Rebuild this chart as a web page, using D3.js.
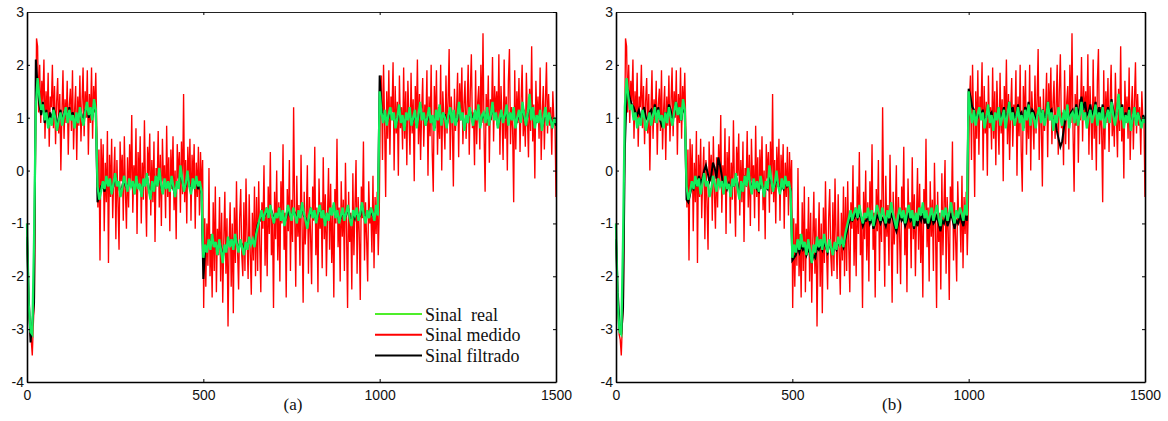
<!DOCTYPE html>
<html>
<head>
<meta charset="utf-8">
<script src="https://cdn.jsdelivr.net/npm/d3@7"></script>
<style>
  body { margin: 0; background: #fff; }
  .tick text { font-family: "Liberation Sans", Arial, sans-serif; font-size: 14px; fill: #111; }
  .legendText, .panelLabel { font-family: "Liberation Serif", "Times New Roman", serif; fill: #111; }
</style>
</head>
<body>
<script>
(function(){

//sample spacing of each stored series
var redStep = 3,
    lineStep = 5;

//measured signal (red), one value every 3 samples
var sinalMedido = [
  //0-27
  -1.0, -2.2, -2.7, -3.1, -3.2, -3.5, -2.9, -2.4, 0.2, 2.5,
  //30-198
  2.35, 1.1, 2.0, 0.9, 1.7, 1.3, 2.1, 0.6, 1.5, 1.0,
  1.85, 0.45, 1.4, 1.2, 2.0, 0.8, 1.6, 0.5, 1.3, 1.75,
  0.7, 1.45, 0.0, 1.1, 1.9, 0.6, 1.35, 0.9, 1.7, 0.3,
  1.25, 1.55, 0.75, 1.9, 0.4, 1.15, 1.6, 0.2, 1.4, 0.85,
  1.8, 0.55, 1.3, 1.95, 0.65, 1.5, 1.0, 1.9, 0.3, 1.45,
  0.9, 1.95, 0.6, 1.6, 1.1, 1.85, 0.8,
  //201-498
  -0.7, 0.4, -1.7, 0.6, -0.35, 0.5, -1.15, 0.15, -0.6, 0.75,
  -1.75, 0.3, -0.5, 0.6, -0.9, -0.1, 0.45, -1.3, 0.2, -0.6,
  -1.5, 0.55, -0.2, 0.3, -0.95, 0.65, -0.4, -1.1, 0.25, -0.7,
  0.5, -0.3, 1.05, -0.8, 0.1, -0.45, 0.8, -1.2, 0.35, -0.25,
  0.65, -1.0, 0.15, -0.55, 0.95, -0.35, -1.25, 0.45, -0.1, 0.7,
  -0.85, 0.2, -0.6, 0.55, -1.35, 0.05, -0.3, 0.75, -0.7, 0.3,
  -1.05, 0.6, -0.2, 0.1, -0.9, 0.85, -0.5, 0.25, -1.15, 0.4,
  -0.35, 0.65, -0.75, 0.0, -1.3, 0.5, -0.15, 0.35, -0.8, 0.55,
  -0.45, 1.45, -0.6, 0.2, -1.0, 0.45, -0.3, 0.6, -0.95, 0.3,
  -0.2, 0.5, -1.1, 0.15, -0.5, 0.45, -0.85, 0.35, -0.4, 0.2,
  //501-648
  -2.6, -0.9, -2.2, -1.0, -1.8, 0.05, -2.0, -1.2, -2.4, -0.6,
  -1.9, -0.3, -2.3, -1.1, -1.6, -0.5, -2.1, -0.8, -2.5, -1.3,
  -0.4, -1.95, -0.9, -2.95, -1.4, -0.6, -2.2, -1.0, -2.7, -0.7,
  -1.75, -0.2, -1.5, -2.25, -0.9, -0.35, -1.6, -2.0, -0.6, -1.9,
  -0.15, -1.25, -2.05, -0.45, -1.55, -2.35, -0.8, -1.7, -0.3, -2.0,
  //651-999
  -0.5, -1.9, -0.2, -1.4, -2.3, -0.6, -1.1, 0.1, -1.8, -0.7,
  -2.0, -0.3, -1.2, 0.35, -1.6, -0.9, -2.6, -0.4, -1.3, 0.0,
  -1.7, -0.6, -2.1, -0.2, -1.0, 0.5, -1.5, -0.8, -2.4, -0.35,
  -1.15, 0.2, -1.9, -0.55, -1.35, 1.2, -0.75, -2.2, -0.1, -1.25,
  -0.65, -1.8, 0.3, -1.05, -2.5, -0.4, -1.4, -0.85, 0.1, -1.95,
  -0.5, -1.2, -2.15, -0.3, -0.95, 0.45, -1.6, -0.7, -2.3, -0.15,
  -1.1, -0.6, -1.85, 0.25, -1.3, -0.45, -2.0, -0.9, 0.05, -1.5,
  -0.25, -1.75, -0.8, -2.4, -0.35, -1.0, 0.6, -1.45, -0.7, -2.1,
  -0.2, -1.25, -0.55, -1.9, 0.15, -1.1, -2.6, -0.4, -1.35, -0.8,
  -2.25, -0.05, -1.6, -0.65, 0.2, -1.95, -0.5, -1.15, -2.45, -0.3,
  -0.9, 0.55, -1.7, -0.6, -1.3, -2.1, -0.2, -1.0, -0.75, -1.55,
  -0.1, -1.85, -0.5, -1.2, -0.4, -1.6, -0.7,
  //1002-1500
  1.3, 1.8, 0.2, 2.0, 0.9, -0.5, 1.5, 0.6, 1.9, 0.3,
  1.4, 1.1, 2.05, 0.0, 1.6, 0.7, 1.3, -0.1, 1.8, 0.8,
  1.2, 0.4, 1.95, 0.6, 1.5, 0.1, 1.7, 1.0, 0.3, 1.85,
  0.7, 1.35, -0.2, 1.6, 0.9, 2.1, 0.5, 1.45, 0.2, 1.1,
  1.75, 0.45, 1.25, 0.85, 1.9, -0.1, 1.4, 0.65, 2.0, 0.35,
  -0.4, 1.6, 0.8, 1.9, 0.3, 1.2, 0.6, 2.0, 0.0, 1.5,
  1.0, 0.4, 1.8, 0.7, 1.3, 2.3, 0.2, 1.4, 0.9, -0.3,
  1.55, 0.75, 1.15, 1.85, 0.25, 1.65, 0.95, 1.95, 0.5, 1.25,
  1.7, 0.6, 1.2, 2.0, 0.3, 1.5, 2.2, 0.8, 1.1, 0.1,
  1.9, 0.5, 1.3, 1.6, 0.4, 2.0, 0.9, 2.6, 0.7, -0.4,
  1.45, 0.85, 1.8, 0.15, 1.35, 0.95, 2.15, 0.55, 1.6, 1.05,
  1.5, 0.8, 2.2, 0.3, 1.6, 1.0, 0.2, 2.1, 0.6, 1.4,
  0.0, 1.7, 2.3, 0.5, 1.2, 0.8, -0.6, 1.9, 0.4, 1.5,
  0.9, 1.75, 0.35, 1.3, 2.0, 0.65, 1.15, 0.45, 1.85, 1.0,
  0.25, 1.55, 0.75, 2.35, 0.55, 1.25, -0.15, 1.7, 0.9, 1.4,
  0.6, 1.95, 0.2, 1.1, 1.6, 0.4, 1.3, 2.05, 0.7, 1.45,
  0.85, 1.2, 0.3, 1.5, 0.95, 1.0, -0.5
];

//real signal (green), one value every 5 samples
var sinalReal = [
  -1.0, -2.55, -3.05, -3.1, -1.3, 1.2,
  1.75, 1.4, 1.15, 1.25, 0.95, 1.1, 0.8, 1.0, 0.85, 1.15,
  1.0, 0.75, 0.95, 1.1, 0.85, 1.05, 1.2, 0.9, 1.15, 0.95,
  1.05, 0.8, 1.1, 0.9, 1.2, 1.0, 0.85, 1.1, 1.3, 1.05,
  1.2, 0.95, 1.35, 1.15,
  -0.3, -0.55, -0.4, -0.2, -0.35, -0.1, -0.3, -0.15, -0.45, -0.25,
  -0.05, -0.3, -0.2, -0.5, -0.35, -0.1, -0.25, -0.4, -0.15, -0.3,
  -0.2, -0.45, -0.1, -0.35, -0.25, -0.5, -0.15, -0.3, -0.05, -0.35,
  -0.55, -0.2, -0.4, -0.1, -0.3, 0.05, -0.25, -0.45, -0.15, -0.35,
  -0.2, -0.4, -0.1, -0.3, -0.5, -0.2, -0.35, 0.1, -0.15, -0.4,
  -0.25, 0.0, -0.3, -0.45, -0.15, -0.35, -0.1, -0.3, -0.2, -0.4,
  -1.65, -1.4, -1.55, -1.3, -1.5, -1.2, -1.45, -1.35, -1.6, -1.3,
  -1.5, -1.75, -1.4, -1.55, -1.25, -1.45, -1.3, -1.5, -1.2, -1.4,
  -1.55, -1.3, -1.45, -1.6, -1.35, -1.5, -1.25, -1.4, -1.3, -1.45,
  -1.2, -1.05, -0.9, -0.75, -0.95, -0.8, -0.7, -0.9, -0.65, -0.85,
  -1.0, -0.8, -0.9, -0.7, -0.95, -0.75, -1.05, -0.85, -0.65, -0.8,
  -0.95, -0.7, -0.85, -1.0, -0.75, -0.9, -0.6, -0.8, -0.95, -1.1,
  -0.85, -0.7, -0.9, -0.75, -1.0, -0.8, -0.65, -0.9, -0.75, -1.05,
  -0.8, -0.95, -0.7, -0.85, -0.6, -0.9, -0.75, -1.0, -0.85, -0.7,
  -0.95, -0.8, -0.65, -0.9, -1.05, -0.75, -0.85, -0.7, -0.95, -0.8,
  -0.6, -0.85, -1.0, -0.75, -0.9, -0.7, -0.8, -0.95, -0.65, -0.85,
  1.5, 1.1, 0.9, 1.15, 0.85, 1.05, 1.2, 0.95, 1.1, 0.8,
  1.0, 1.25, 0.9, 1.05, 0.75, 1.1, 0.95, 1.2, 0.85, 1.0,
  1.15, 0.8, 1.05, 1.3, 0.95, 1.1, 0.85, 1.0, 1.2, 0.9,
  1.05, 0.75, 1.15, 0.95, 1.25, 0.85, 1.1, 1.0, 0.8, 1.05,
  1.2, 0.9, 1.15, 0.85, 1.0, 1.3, 0.95, 1.1, 0.75, 1.05,
  0.9, 1.2, 1.0, 0.85, 1.15, 0.95, 1.25, 0.8, 1.05, 1.1,
  0.9, 1.2, 0.85, 1.05, 1.3, 0.95, 1.1, 0.8, 1.0, 1.15,
  0.9, 1.05, 1.25, 0.85, 1.1, 0.95, 1.2, 0.8, 1.0, 1.15,
  0.9, 1.3, 1.05, 0.85, 1.1, 1.45, 0.95, 1.2, 0.8, 1.05,
  0.9, 1.15, 0.75, 1.0, 1.2, 0.85, 1.1, 0.95, 0.8, 1.0,
  0.9
];

//filtered signal, panel (a)
var filtradoA = [
  -1.25, -2.4, -3.25, -2.9, -2.5, 2.1,
  1.6, 1.25, 1.05, 1.3, 0.9, 1.15, 0.85, 1.1, 0.95, 1.2,
  1.05, 0.85, 1.0, 1.15, 0.9, 1.1, 1.15, 0.95, 1.2, 1.0,
  1.1, 0.85, 1.05, 0.95, 1.15, 1.05, 0.9, 1.15, 1.2, 1.0,
  1.15, 1.0, 1.25, 1.1,
  -0.6, -0.45, -0.3, -0.25, -0.4, -0.15, -0.25, -0.2, -0.4, -0.3,
  -0.1, -0.25, -0.25, -0.45, -0.3, -0.15, -0.3, -0.35, -0.2, -0.25,
  -0.25, -0.4, -0.15, -0.3, -0.3, -0.45, -0.2, -0.25, -0.1, -0.3,
  -0.5, -0.25, -0.35, -0.15, -0.25, 0.0, -0.3, -0.4, -0.2, -0.3,
  -0.25, -0.35, -0.15, -0.35, -0.45, -0.25, -0.3, 0.0, -0.2, -0.35,
  -0.3, -0.05, -0.25, -0.4, -0.2, -0.3, -0.15, -0.35, -0.25, -0.45,
  -2.05, -1.5, -1.45, -1.35, -1.45, -1.25, -1.4, -1.4, -1.55, -1.35,
  -1.45, -1.65, -1.45, -1.5, -1.3, -1.4, -1.35, -1.45, -1.25, -1.35,
  -1.5, -1.35, -1.4, -1.55, -1.4, -1.45, -1.3, -1.35, -1.35, -1.4,
  -1.15, -1.0, -0.95, -0.8, -0.9, -0.85, -0.75, -0.85, -0.7, -0.8,
  -0.95, -0.85, -0.85, -0.75, -0.9, -0.8, -1.0, -0.9, -0.7, -0.85,
  -0.9, -0.75, -0.8, -0.95, -0.8, -0.85, -0.65, -0.85, -0.9, -1.05,
  -0.9, -0.75, -0.85, -0.8, -0.95, -0.85, -0.7, -0.85, -0.8, -1.0,
  -0.85, -0.9, -0.75, -0.8, -0.65, -0.85, -0.8, -0.95, -0.9, -0.75,
  -0.9, -0.85, -0.7, -0.85, -1.0, -0.8, -0.9, -0.75, -0.9, -0.85,
  -0.65, -0.8, -0.95, -0.8, -0.85, -0.75, -0.85, -0.9, -0.7, -0.8,
  1.8, 1.2, 0.95, 1.1, 0.9, 1.0, 1.15, 1.0, 1.05, 0.85,
  0.95, 1.2, 0.95, 1.0, 0.8, 1.05, 1.0, 1.15, 0.9, 0.95,
  1.1, 0.85, 1.0, 1.25, 1.0, 1.05, 0.9, 0.95, 1.15, 0.95,
  1.0, 0.8, 1.1, 1.0, 1.2, 0.9, 1.05, 1.05, 0.85, 1.0,
  1.15, 0.95, 1.1, 0.9, 0.95, 1.25, 1.0, 1.05, 0.8, 1.0,
  0.95, 1.15, 1.05, 0.9, 1.1, 1.0, 1.2, 0.85, 1.0, 1.05,
  0.95, 1.15, 0.9, 1.0, 1.25, 1.0, 1.05, 0.85, 0.95, 1.1,
  0.95, 1.0, 1.2, 0.9, 1.05, 1.0, 1.15, 0.85, 0.95, 1.1,
  0.95, 1.25, 1.0, 0.9, 1.05, 1.35, 1.0, 1.15, 0.85, 1.0,
  0.95, 1.1, 0.8, 0.95, 1.15, 0.9, 1.05, 1.0, 0.85, 0.95,
  0.85
];

//filtered signal, panel (b)
var filtradoB = [
  -1.3, -2.3, -2.9, -3.1, -2.6, 0.4,
  1.45, 1.5, 1.35, 1.25, 1.2, 1.1, 1.05, 1.15, 1.0, 1.1,
  1.2, 1.0, 0.95, 1.1, 1.15, 1.0, 1.25, 1.05, 1.2, 0.95,
  0.85, 0.9, 1.1, 1.0, 1.25, 1.15, 0.95, 1.05, 1.3, 1.15,
  1.1, 0.95, 1.2, 1.1,
  -0.55, -0.6, -0.45, -0.3, -0.35, -0.2, -0.3, -0.1, -0.25, -0.15,
  0.0, 0.1, -0.05, -0.2, -0.1, 0.15, 0.05, -0.15, 0.25, 0.1,
  -0.1, -0.3, -0.2, -0.35, -0.25, -0.4, -0.2, -0.3, -0.1, -0.25,
  -0.45, -0.35, -0.3, -0.15, -0.25, -0.1, -0.2, -0.35, -0.2, -0.3,
  -0.35, -0.4, -0.25, -0.3, -0.45, -0.3, -0.35, -0.1, -0.2, -0.35,
  -0.3, -0.15, -0.25, -0.4, -0.3, -0.35, -0.2, -0.3, -0.25, -0.35,
  -1.7, -1.65, -1.6, -1.45, -1.55, -1.4, -1.5, -1.45, -1.6, -1.5,
  -1.55, -1.75, -1.6, -1.65, -1.45, -1.5, -1.4, -1.5, -1.35, -1.45,
  -1.55, -1.4, -1.45, -1.55, -1.45, -1.5, -1.35, -1.4, -1.35, -1.45,
  -1.3, -1.15, -1.0, -0.9, -0.95, -0.9, -0.8, -0.9, -0.8, -0.9,
  -1.05, -0.95, -0.95, -0.85, -1.0, -0.9, -1.1, -1.0, -0.85, -0.9,
  -1.0, -0.9, -0.95, -1.05, -0.9, -1.0, -0.8, -0.9, -1.05, -1.15,
  -1.0, -0.85, -0.95, -0.9, -1.05, -0.95, -0.8, -0.95, -0.9, -1.1,
  -0.95, -1.05, -0.85, -0.95, -0.8, -1.0, -0.9, -1.1, -1.0, -0.85,
  -1.0, -0.95, -0.85, -1.0, -1.15, -0.95, -1.0, -0.85, -1.05, -0.95,
  -0.8, -0.95, -1.1, -0.95, -1.0, -0.85, -0.95, -1.05, -0.85, -0.95,
  1.55, 1.4, 1.2, 1.15, 1.05, 1.0, 1.1, 1.05, 1.15, 0.95,
  1.0, 1.2, 1.05, 1.1, 0.9, 1.05, 1.0, 1.2, 1.0, 1.05,
  1.2, 0.95, 1.1, 1.3, 1.1, 1.2, 1.0, 1.05, 1.25, 1.05,
  1.1, 0.9, 1.2, 1.1, 1.3, 1.0, 1.15, 1.1, 0.95, 1.05,
  1.2, 1.0, 1.15, 1.0, 1.05, 1.3, 1.1, 1.15, 0.9, 1.0,
  0.75, 0.6, 0.45, 0.55, 0.8, 1.0, 1.2, 0.95, 1.1, 1.15,
  1.0, 1.25, 1.05, 1.2, 1.4, 1.15, 1.3, 1.05, 1.1, 1.25,
  1.05, 1.15, 1.3, 1.0, 1.2, 1.05, 1.25, 0.95, 1.05, 1.2,
  1.0, 1.35, 1.15, 0.95, 1.1, 1.4, 1.05, 1.25, 0.9, 1.1,
  0.95, 1.2, 0.8, 1.0, 1.2, 0.9, 1.1, 1.0, 0.85, 1.05,
  0.95
];

//axis ticks and labels
var xTicks = [0, 500, 1000, 1500],
    yTicks = [-4, -3, -2, -1, 0, 1, 2, 3],
    legendLabels = ["Sinal\u00a0 real", "Sinal medido", "Sinal filtrado"],
    panelLabels = ["(a)", "(b)"];

//colours
var colReal = "#12ee5c",
    colRealLegend = "#4eee2a",
    colMedido = "#ff0000",
    colFiltrado = "#000000";

//frame dimensions
var width = 1168,
    height = 421,
    plotTop = 12,
    plotBottom = 382,
    plotWidth = 529,
    panelLefts = [27, 616],
    panelLabelX = [293, 892];

var svg = d3.select("body")
    .append("svg")
    .attr("width", width)
    .attr("height", height);

svg.append("rect")
    .attr("width", width)
    .attr("height", height)
    .attr("fill", "#fff");

var yScale = d3.scaleLinear()
    .domain([-4, 3])
    .range([plotBottom, plotTop]);

drawPanel(0, filtradoA, true);
drawPanel(1, filtradoB, false);

function drawPanel(p, filtrado, withLegend){
    var left = panelLefts[p];

    var xScale = d3.scaleLinear()
        .domain([0, 1500])
        .range([left, left + plotWidth]);

    var g = svg.append("g");

    //line generators for the two sample spacings
    var redLine = d3.line()
        .x(function(d, i){ return xScale(i * redStep); })
        .y(function(d){ return yScale(d); });

    var line = d3.line()
        .x(function(d, i){ return xScale(i * lineStep); })
        .y(function(d){ return yScale(d); });

    g.append("path")
        .datum(sinalMedido)
        .attr("d", redLine)
        .attr("fill", "none")
        .attr("stroke", colMedido)
        .attr("stroke-width", 1.35);

    g.append("path")
        .datum(filtrado)
        .attr("d", line)
        .attr("fill", "none")
        .attr("stroke", colFiltrado)
        .attr("stroke-width", 2);

    g.append("path")
        .datum(sinalReal)
        .attr("d", line)
        .attr("fill", "none")
        .attr("stroke", colReal)
        .attr("stroke-width", 2.3);

    //axes, ticks pointing inward on all four sides
    var fmt = function(d){ return String(d); };

    var bottomAxis = g.append("g")
        .attr("transform", "translate(0," + plotBottom + ")")
        .call(d3.axisBottom(xScale).tickValues(xTicks).tickFormat(fmt)
            .tickSizeInner(-3).tickSizeOuter(0).tickPadding(8.5));

    var leftAxis = g.append("g")
        .attr("transform", "translate(" + left + ",0)")
        .call(d3.axisLeft(yScale).tickValues(yTicks).tickFormat(fmt)
            .tickSizeInner(-3).tickSizeOuter(0).tickPadding(3));

    var topAxis = g.append("g")
        .attr("transform", "translate(0," + plotTop + ")")
        .call(d3.axisTop(xScale).tickValues(xTicks).tickFormat("")
            .tickSizeInner(-3).tickSizeOuter(0));

    var rightAxis = g.append("g")
        .attr("transform", "translate(" + (left + plotWidth) + ",0)")
        .call(d3.axisRight(yScale).tickValues(yTicks).tickFormat("")
            .tickSizeInner(-3).tickSizeOuter(0));

    [bottomAxis, leftAxis, rightAxis].forEach(function(a){
        a.select(".domain").attr("stroke", "#000").attr("stroke-width", 1.6);
    });
    topAxis.select(".domain").attr("stroke", "#222").attr("stroke-width", 1);
    g.selectAll(".tick line").attr("stroke", "#000").attr("stroke-width", 1);

    //panel label under the axis
    g.append("text")
        .attr("class", "panelLabel")
        .attr("x", panelLabelX[p])
        .attr("y", 409.5)
        .attr("text-anchor", "middle")
        .style("font-size", "17px")
        .text(panelLabels[p]);

    if (withLegend){
        var legendColors = [colRealLegend, colMedido, colFiltrado];
        var legend = g.selectAll(".legendRow")
            .data(legendLabels)
            .enter()
            .append("g")
            .attr("class", "legendRow")
            .attr("transform", function(d, i){
                return "translate(375," + (314 + i * 20.7) + ")";
            });

        legend.append("line")
            .attr("x1", 0)
            .attr("x2", 47)
            .attr("stroke", function(d, i){ return legendColors[i]; })
            .attr("stroke-width", 2);

        legend.append("text")
            .attr("class", "legendText")
            .attr("x", 50)
            .attr("y", 6.5)
            .style("font-size", "18px")
            .text(function(d){ return d; });
    }
};

})();
</script>
</body>
</html>
